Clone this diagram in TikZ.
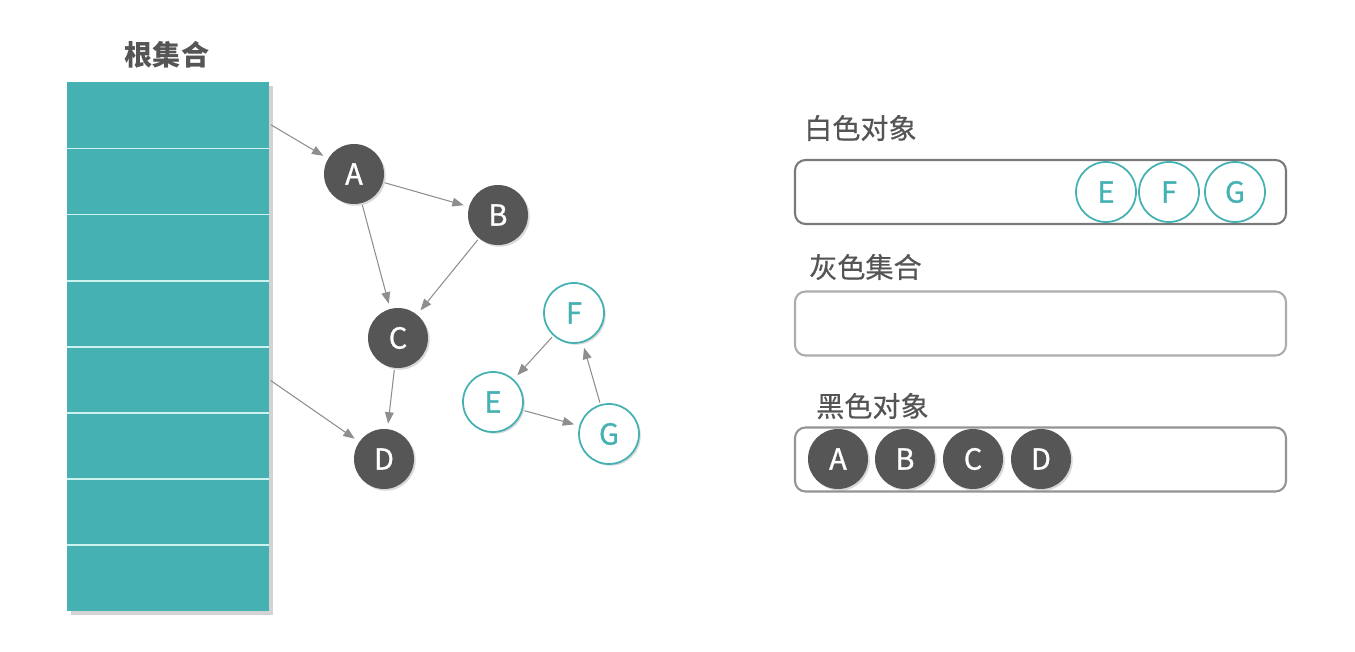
\documentclass[tikz,border=0pt]{standalone}
\usepackage{fontspec}
\usetikzlibrary{arrows.meta,shadows}
\setmainfont{Noto Sans CJK SC}
\newfontfamily\objfont{Noto Sans CJK SC}[FakeBold=0.9]
\newfontfamily\labelfont{Noto Sans CJK SC}[FakeBold=0.5]
\definecolor{rootteal}{HTML}{46B1B2}
\definecolor{objdark}{HTML}{565656}
\definecolor{txtgray}{HTML}{555555}
\definecolor{linegray}{HTML}{8E8E8E}
\definecolor{sepline}{HTML}{CDF3F1}

\begin{document}
\begin{tikzpicture}[x=0.2mm,y=-0.2mm,>={Triangle[length=6.5pt,width=5pt]},
  every node/.style={font=\objfont\fontsize{16.5}{19}\selectfont},
  cell/.style={fill=rootteal,minimum width=4.04cm,minimum height=1.3225cm,inner sep=0pt},
  objshadow/.style={drop shadow={opacity=0.3,shadow xshift=1pt,shadow yshift=-1pt}},
  obj/.style={circle,minimum size=1.2cm,inner sep=0pt},
  blackobj/.style={obj,fill=objdark,text=white,objshadow},
  ringobj/.style={obj,draw=rootteal,line width=1pt,text=rootteal},
  whiteobj/.style={ringobj,fill=white,objshadow},
  link/.style={->,draw=linegray,line width=0.6pt,shorten >=3pt,shorten <=1pt},
  setbox/.style={draw,rounded corners=6pt,line width=1.2pt,minimum width=9.82cm,minimum height=1.28cm},
  setlabel/.style={anchor=west,text=txtgray,font=\labelfont\fontsize{16}{19}\selectfont}]
\useasboundingbox (0,0) rectangle (1355,652);
% root set
\path[fill=rootteal,drop shadow={opacity=0.35,shadow xshift=2pt,shadow yshift=-2pt}] (67,82) rectangle (269,611);
\foreach \i in {1,...,8}{
\node[cell] (r\i) at (168,{82+66.125*(\i-0.5)}) {};}
\foreach \i in {1,...,7}{
\draw[sepline,line width=1pt] (r\i.south west) -- (r\i.south east);}
\node[font=\bfseries\fontsize{16}{19}\selectfont,text=txtgray] (roottitle) at (167,55) {根集合};
% object graph
\node[blackobj] (A) at (354,174) {A};
\node[blackobj] (B) at (498,215) {B};
\node[blackobj] (C) at (398,338) {C};
\node[blackobj] (D) at (384,459) {D};
\node[whiteobj] (F) at (574,313) {F};
\node[whiteobj] (E) at (493,402) {E};
\node[whiteobj] (G) at (609,434) {G};
\draw[link] ([yshift=-5pt]r1.east) -- (A);
\draw[link] (A) -- (B);
\draw[link] (A) -- (C);
\draw[link] (B) -- (C);
\draw[link] (C) -- (D);
\draw[link] (r5.east) -- (D);
\draw[link] (F) -- (E);
\draw[link] (E) -- (G);
\draw[link] (G) -- (F);
% the three sets
\node[setlabel] (whitelabel) at (798,128) {白色对象};
\node[setbox,draw=gray!95!black] (whitebox) at (1040.5,192) {};
\node[setlabel] (graylabel) at (803,267) {灰色集合};
\node[setbox,draw=gray!65] (graybox) at (1040.5,323.5) {};
\node[setlabel] (blacklabel) at (810,406) {黑色对象};
\node[setbox,draw=gray!85] (blackbox) at (1040.5,459.5) {};
\foreach \n/\x in {E/1106,F/1169,G/1235}{
\node[ringobj] (w\n) at (\x,192) {\n};}
\foreach \n/\x in {A/838,B/905,C/973,D/1041}{
\node[blackobj] (k\n) at (\x,459) {\n};}
\end{tikzpicture}
\end{document}
